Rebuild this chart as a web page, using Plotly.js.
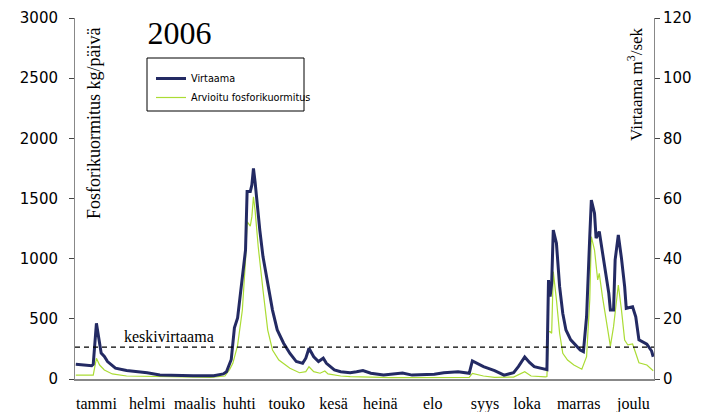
<!DOCTYPE html>
<html>
<head>
<meta charset="utf-8">
<script src="https://cdn.plot.ly/plotly-3.0.1.min.js"></script>
<style>html,body{margin:0;padding:0;background:#fff;}#chart{width:705px;height:412px;}</style>
</head>
<body>
<div id="chart"></div>
<script>
// Month tick labels and their day-of-year positions
const monthLabels = ['tammi','helmi','maalis','huhti','touko','kesä','heinä','elo','syys','loka','marras','joulu'];
const monthLabelDays = [14, 46, 76, 104, 134, 163.5, 193, 226, 259, 285.5, 318, 352.5];

// Virtaama (m3/s), right axis
const flowDays = [1,11,12,14,16,17,19,21,26,33,46,54,75,88,94,96,99,101,103,106,108,109,111,112,113,114,115,117,119,122,125,128,132,136,140,144,146,148,151,154,157,159,164,168,174,178,182,187,195,207,213,227,233,242,245,249,251,253,258,265,271,277,280,284,287,290,297,298,299,300,301,302,304,306,308,310,313,316,319,321,323,325,326,328,329,331,332,334,337,338,340,341,343,345,347,348,352,354,356,361,364,365];
const flowValues = [4.9,4.4,4.9,18.5,11.9,8.6,7.5,5.8,3.6,2.8,2.1,1.3,1.1,1.1,1.7,2.4,6.5,17,20.3,32.9,42.9,62.3,62.3,64.5,70,65.6,59.5,49.5,40.7,31.8,22.9,16.3,11.9,8.5,5.8,5.2,6.9,10.2,7.4,5.8,6.9,5.2,3.0,2.4,2.1,2.4,2.8,1.9,1.3,2.0,1.3,1.6,2.1,2.4,2.2,1.9,6.0,5.5,4.1,2.8,1.3,2.1,4.1,7.3,5.5,4.1,3.2,3.1,32.9,27.4,31.8,49.5,45.1,30.7,21.8,16.3,13,11.3,9.6,9.1,20.7,47.3,59.5,55.1,46.8,49,45.6,37.3,28.5,22.9,22.9,39.6,47.9,40.1,30.7,23.5,24,20.7,13,11.6,9.3,7.4];

// Arvioitu fosforikuormitus (kg/päivä), left axis
const loadDays = [1,12,14,16,19,24,33,54,86,95,98,100,103,106,108,109,111,112,113,114,116,119,122,125,129,136,142,146,148,151,155,158,160,168,174,200,230,249,251,253,258,265,277,284,288,297,298,299,300,301,302,304,306,308,311,315,320,323,325,326,328,330,331,333,336,338,340,343,345,347,349,352,354,356,361,365];
const loadValues = [33,33,172,116,75,42,25,19,14,25,80,130,280,573,989,1307,1271,1349,1515,1404,1099,740,407,241,158,89,52,61,102,61,48,66,42,25,19,12,14,14,47,40,25,14,16,61,25,17,20,393,393,380,892,657,380,214,158,116,81,185,657,1183,1072,823,878,684,435,274,435,781,573,324,283,291,214,135,116,69];

const meanFlow = 10.6;

const serif = 'Liberation Serif, Times New Roman, serif';
const sans = 'Verdana, DejaVu Sans, sans-serif';

const traces = [
  {x: flowDays, y: flowValues, name: 'Virtaama', type: 'scatter', mode: 'lines', yaxis: 'y2',
   line: {color: '#232a63', width: 3}},
  {x: loadDays, y: loadValues, name: 'Arvioitu fosforikuormitus', type: 'scatter', mode: 'lines', yaxis: 'y',
   line: {color: '#abdc34', width: 1.2}}
];

const layout = {
  width: 705, height: 412,
  margin: {l: 75, r: 51, t: 18, b: 33},
  paper_bgcolor: '#fff', plot_bgcolor: '#fff',
  showlegend: true,
  title: {text: '2006', font: {family: serif, size: 32, color: '#000'},
          xref: 'container', yref: 'container', x: 179.5/705, y: 1 - 32.5/412, xanchor: 'center', yanchor: 'middle'},
  xaxis: {range: [0.5, 365.5], tickmode: 'array', tickvals: monthLabelDays, ticktext: monthLabels,
          ticks: 'outside', ticklen: 9, tickcolor: 'rgba(0,0,0,0)',
          showline: true, linecolor: '#888', linewidth: 2, showgrid: false, zeroline: false,
          tickfont: {family: serif, size: 16, color: '#000'}, fixedrange: true},
  yaxis: {range: [0, 3000], dtick: 500, ticks: 'outside', ticklen: 5, tickcolor: '#444', tickwidth: 1,
          ticklabelstandoff: 8,
          showline: true, linecolor: '#888', linewidth: 1, showgrid: false, zeroline: false,
          tickfont: {family: sans, size: 15, color: '#000'}, fixedrange: true},
  yaxis2: {range: [0, 120], dtick: 20, overlaying: 'y', side: 'right', ticks: 'outside', ticklen: 5,
           tickcolor: '#444', showline: true, linecolor: '#888', linewidth: 1, showgrid: false, zeroline: false,
           tickfont: {family: sans, size: 15, color: '#000'}, fixedrange: true},
  yaxis3: {range: [0, 120], dtick: 20, overlaying: 'y', side: 'right', ticks: 'inside', ticklen: 5,
           tickcolor: '#444', showline: false, showgrid: false, zeroline: false, showticklabels: false, fixedrange: true},
  legend: {x: (151 - 75) / 579, y: (379 - 64) / 361, xanchor: 'left', yanchor: 'top',
           bgcolor: 'rgba(0,0,0,0)', borderwidth: 0,
           font: {family: sans, size: 9.7, color: '#000'}},
  shapes: [
    {type: 'line', xref: 'paper', x0: 0, x1: 1, yref: 'y2', y0: meanFlow, y1: meanFlow,
     line: {color: '#000', width: 1.3, dash: '5px,4px'}},
    {type: 'rect', xref: 'paper', yref: 'paper', x0: (147 - 75) / 579, x1: (304 - 75) / 579,
     y0: (379 - 111) / 361, y1: (379 - 58) / 361, line: {color: '#000', width: 1}, fillcolor: 'rgba(0,0,0,0)'}
  ],
  annotations: [
    {text: 'Fosforikuormitus kg/päivä', xref: 'paper', yref: 'paper', x: (94 - 75) / 579, y: (379 - 123) / 361,
     textangle: -90, showarrow: false, font: {family: serif, size: 18, color: '#000'}, xanchor: 'center', yanchor: 'middle'},
    {text: 'Virtaama m<sup>3</sup>/sek', xref: 'paper', yref: 'paper', x: (635 - 75) / 579, y: (379 - 84) / 361,
     textangle: -90, showarrow: false, font: {family: serif, size: 17, color: '#000'}, xanchor: 'center', yanchor: 'middle'},
    {text: 'keskivirtaama', xref: 'paper', yref: 'paper', x: (169 - 75) / 579, y: (379 - 336) / 361,
     showarrow: false, font: {family: serif, size: 16, color: '#000'}, xanchor: 'center', yanchor: 'middle'}
  ]
};

Plotly.newPlot('chart', traces, layout, {staticPlot: true, displayModeBar: false});
</script>
</body>
</html>
